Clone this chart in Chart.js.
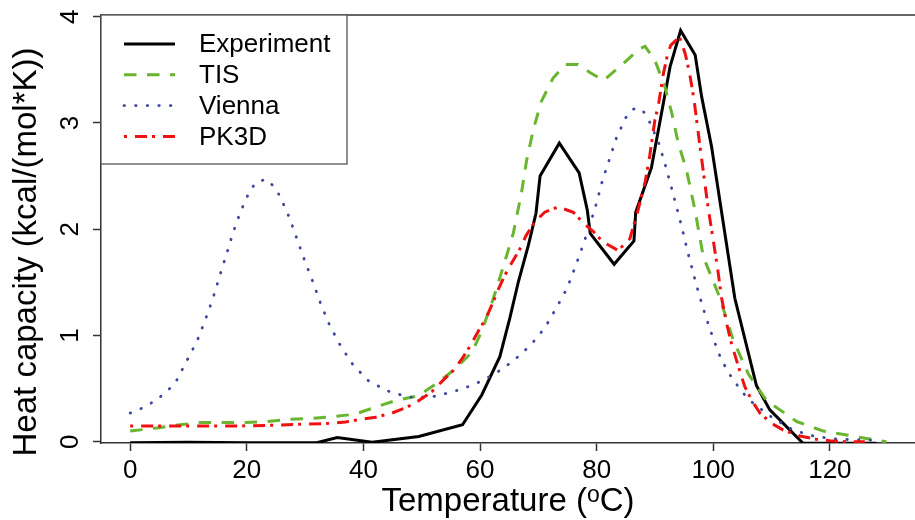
<!DOCTYPE html>
<html>
<head>
<meta charset="utf-8">
<script src="https://cdn.jsdelivr.net/npm/chart.js@4.4.0/dist/chart.umd.min.js"></script>
<style>
  html, body { margin: 0; padding: 0; background: #fff; }
  #wrap { width: 915px; height: 520px; }
</style>
</head>
<body>
<div id="wrap"><canvas id="cp" width="915" height="520"></canvas></div>
<script>
// heat capacity curves

const seriesLabels = ["Experiment", "TIS", "Vienna", "PK3D"];

const expT  = [0, 10, 20, 32, 35.5, 41.5, 49.5, 57, 60.3, 63.4, 65.1, 66.6, 68.3, 69.6, 70.3, 73.6, 77, 78.4, 78.9, 83, 86.4, 86.7, 89.4, 92.6, 94.4, 96.9, 98, 99.7, 103.7, 107.4, 109.7, 115.4, 128];
const expCp = [-0.01, -0.005, -0.01, -0.01, 0.04, -0.005, 0.05, 0.16, 0.44, 0.8, 1.16, 1.51, 1.85, 2.15, 2.5, 2.81, 2.53, 2.18, 1.96, 1.67, 1.89, 2.16, 2.58, 3.53, 3.87, 3.64, 3.25, 2.78, 1.35, 0.53, 0.3, -0.015, -0.015];

const tisT  = [0, 4.6, 8.6, 12, 16, 19.7, 23.4, 27, 31, 34.8, 38.6, 42.3, 45.7, 49.3, 52.6, 55.4, 58.6, 60.3, 62.3, 64, 65.7, 67.1, 68, 69.2, 70.5, 72.5, 74.6, 76.8, 79, 81.2, 84.6, 87.4, 88.3, 90, 91.7, 92.9, 94, 95.4, 96.9, 98.3, 101.1, 103.4, 106, 109.1, 114.3, 118.9, 122.9, 126.3, 129.7];
const tisCp = [0.10, 0.13, 0.16, 0.18, 0.18, 0.18, 0.19, 0.21, 0.22, 0.235, 0.26, 0.33, 0.39, 0.43, 0.55, 0.67, 0.84, 1.04, 1.35, 1.65, 1.96, 2.34, 2.65, 2.95, 3.2, 3.42, 3.55, 3.55, 3.47, 3.40, 3.56, 3.70, 3.72, 3.59, 3.34, 3.09, 2.81, 2.56, 2.17, 1.74, 1.36, 0.96, 0.64, 0.39, 0.19, 0.10, 0.063, 0.03, 0];

const viennaT  = [0, 1.8, 3.5, 5.1, 6.6, 7.9, 9.7, 11.5, 12.9, 14.2, 15.3, 16.5, 17.6, 18.9, 20.5, 21.6, 23.3, 24.7, 25.7, 27.3, 28.6, 29.9, 31.3, 32.6, 34.1, 35.9, 38, 40.7, 44, 47.7, 51.6, 55.4, 59.1, 62.6, 65.7, 68.7, 71.1, 73.1, 74.9, 76.3, 77.6, 78.9, 80, 81, 82.2, 83.4, 85, 86.3, 87.2, 88, 89, 90.6, 91.7, 92.7, 93.7, 94.7, 95.6, 96.6, 97.6, 98.7, 100, 101.4, 103.3, 105.7, 107.1, 110.3, 113.7, 117.4, 121.1, 125.1, 127];
const viennaCp = [0.27, 0.31, 0.36, 0.42, 0.49, 0.57, 0.76, 0.95, 1.15, 1.35, 1.55, 1.76, 1.96, 2.16, 2.36, 2.44, 2.47, 2.40, 2.31, 2.11, 1.91, 1.71, 1.51, 1.31, 1.11, 0.92, 0.74, 0.58, 0.48, 0.42, 0.42, 0.47, 0.54, 0.64, 0.76, 0.91, 1.07, 1.26, 1.44, 1.64, 1.84, 2.05, 2.25, 2.46, 2.66, 2.86, 3.05, 3.13, 3.14, 3.11, 3.02, 2.82, 2.62, 2.42, 2.21, 2.0, 1.79, 1.58, 1.38, 1.18, 0.97, 0.77, 0.59, 0.42, 0.35, 0.22, 0.11, 0.05, 0.025, 0.016, 0.015];

const pk3dT  = [0, 13.1, 18.6, 23.7, 29.1, 34.3, 36.9, 39.4, 42.1, 44.9, 47.3, 49.6, 51.7, 53.7, 55.4, 56.9, 58.4, 59.7, 61, 62.3, 63.1, 64.3, 65.4, 66.9, 67.9, 69.4, 71.1, 73.4, 76, 77.7, 79.4, 81.1, 83.7, 85.7, 87.1, 88.3, 89.1, 90, 90.6, 91.4, 92.1, 92.7, 94.2, 95.2, 95.9, 96.7, 97.7, 98.4, 99.1, 99.9, 100.7, 101.4, 102.3, 103.1, 104.3, 105.4, 106.6, 108, 110.1, 112, 114.9, 117.7, 120, 122.9, 126];
const pk3dCp = [0.148, 0.148, 0.148, 0.154, 0.164, 0.173, 0.185, 0.21, 0.23, 0.27, 0.32, 0.39, 0.47, 0.58, 0.67, 0.78, 0.91, 1.04, 1.16, 1.32, 1.43, 1.57, 1.68, 1.82, 1.94, 2.07, 2.16, 2.21, 2.16, 2.06, 1.98, 1.88, 1.80, 1.91, 2.18, 2.44, 2.69, 3.03, 3.17, 3.45, 3.63, 3.73, 3.81, 3.65, 3.48, 3.22, 2.79, 2.50, 2.21, 1.93, 1.65, 1.36, 1.11, 0.93, 0.71, 0.52, 0.39, 0.27, 0.17, 0.11, 0.054, 0.022, 0.01, 0, 0];

const xTicks = [0, 20, 40, 60, 80, 100, 120];
const yTicks = [0, 1, 2, 3, 4];

const FONT = "'Liberation Sans', Arial, sans-serif";
const AXIS = "#333";

function pts(xs, ys) {
  return xs.map((x, i) => ({ x, y: ys[i] }));
}

// top edge of the box, legend and axis titles
const framePlugin = {
  id: "frame",
  afterDraw(chart) {
    const { ctx, chartArea: a } = chart;
    ctx.save();

    ctx.strokeStyle = AXIS;
    ctx.lineWidth = 1.5;
    ctx.beginPath();
    ctx.moveTo(a.left, a.top);
    ctx.lineTo(a.right, a.top);
    ctx.stroke();

    // legend box
    const bx = a.left, by = a.top, bw = 246, bh = 149;
    ctx.fillStyle = "#fff";
    ctx.fillRect(bx, by, bw, bh);
    ctx.strokeStyle = "#555";
    ctx.lineWidth = 1.3;
    ctx.strokeRect(bx, by, bw, bh);

    ctx.font = "26px " + FONT;
    ctx.textBaseline = "middle";
    ctx.textAlign = "left";
    chart.data.datasets.forEach((ds, i) => {
      const y = by + 29 + i * 30.8;
      ctx.save();
      ctx.strokeStyle = ds.borderColor;
      ctx.lineWidth = ds.borderWidth;
      ctx.lineCap = ds.borderCapStyle || "butt";
      ctx.setLineDash(ds.borderDash || []);
      ctx.beginPath();
      ctx.moveTo(bx + 23, y);
      ctx.lineTo(bx + 74, y);
      ctx.stroke();
      ctx.restore();
      ctx.fillStyle = "#000";
      ctx.fillText(ds.label, bx + 98, y + 1);
    });

    // x title with a superscript o
    ctx.fillStyle = "#000";
    ctx.textBaseline = "alphabetic";
    const big = "33px " + FONT, small = "23px " + FONT;
    const p1 = "Temperature (", p2 = "o", p3 = "C)";
    ctx.font = big;
    const w1 = ctx.measureText(p1).width, w3 = ctx.measureText(p3).width;
    ctx.font = small;
    const w2 = ctx.measureText(p2).width;
    let tx = (a.left + a.right) / 2 - (w1 + w2 + w3) / 2;
    const ty = 511;
    ctx.font = big;
    ctx.fillText(p1, tx, ty);
    tx += w1;
    ctx.font = small;
    ctx.fillText(p2, tx, ty - 9);
    tx += w2;
    ctx.font = big;
    ctx.fillText(p3, tx, ty);

    // y title
    ctx.save();
    ctx.translate(36, 252);
    ctx.rotate(-Math.PI / 2);
    ctx.textAlign = "center";
    ctx.font = big;
    ctx.fillText("Heat capacity (kcal/(mol*K))", 0, 0);
    ctx.restore();

    ctx.restore();
  },
};

const ctx = document.getElementById("cp").getContext("2d");

new Chart(ctx, {
  type: "line",
  data: {
    datasets: [
      {
        label: seriesLabels[0],
        data: pts(expT, expCp),
        borderColor: "#000000",
        borderWidth: 3,
        order: 3,
      },
      {
        label: seriesLabels[1],
        data: pts(tisT, tisCp),
        borderColor: "#6AB52F",
        borderWidth: 3,
        borderDash: [12.5, 10.5],
        order: 2,
      },
      {
        label: seriesLabels[2],
        data: pts(viennaT, viennaCp),
        borderColor: "#3A46A0",
        borderWidth: 2.8,
        borderDash: [0.5, 11.1],
        borderCapStyle: "round",
        order: 1,
      },
      {
        label: seriesLabels[3],
        data: pts(pk3dT, pk3dCp),
        borderColor: "#F01010",
        borderWidth: 3,
        borderDash: [3, 8, 12, 5],
        order: 0,
      },
    ],
  },
  options: {
    responsive: false,
    animation: false,
    devicePixelRatio: 1,
    layout: { padding: { left: 0, right: 0, top: 15, bottom: 0 } },
    elements: {
      point: { radius: 0 },
      line: { tension: 0, fill: false },
    },
    plugins: {
      legend: { display: false },
      tooltip: { enabled: false },
    },
    scales: {
      x: {
        type: "linear",
        min: -5,
        max: 134.6,
        afterBuildTicks(scale) {
          scale.ticks = xTicks.map((v) => ({ value: v }));
        },
        afterFit(scale) {
          scale.height = 77;
          scale.paddingLeft = 0;
          scale.paddingRight = 0;
        },
        ticks: {
          color: "#000",
          font: { family: FONT, size: 26 },
          padding: 4,
          maxRotation: 0,
          autoSkip: false,
        },
        grid: {
          drawOnChartArea: false,
          drawTicks: true,
          tickLength: 8,
          tickColor: AXIS,
          tickWidth: 1.5,
        },
        border: { display: true, color: AXIS, width: 1.5 },
      },
      y: {
        type: "linear",
        min: -0.012,
        max: 4.016,
        afterBuildTicks(scale) {
          scale.ticks = yTicks.map((v) => ({ value: v }));
        },
        afterFit(scale) {
          scale.width = 101;
          scale.paddingTop = 0;
          scale.paddingBottom = 0;
        },
        ticks: {
          color: "#000",
          font: { family: FONT, size: 26 },
          padding: 15,
          minRotation: 90,
          maxRotation: 90,
          crossAlign: "center",
          autoSkip: false,
        },
        grid: {
          drawOnChartArea: false,
          drawTicks: true,
          tickLength: 8,
          tickColor: AXIS,
          tickWidth: 1.5,
        },
        border: { display: true, color: AXIS, width: 1.5 },
      },
    },
  },
  plugins: [framePlugin],
});
</script>
</body>
</html>
